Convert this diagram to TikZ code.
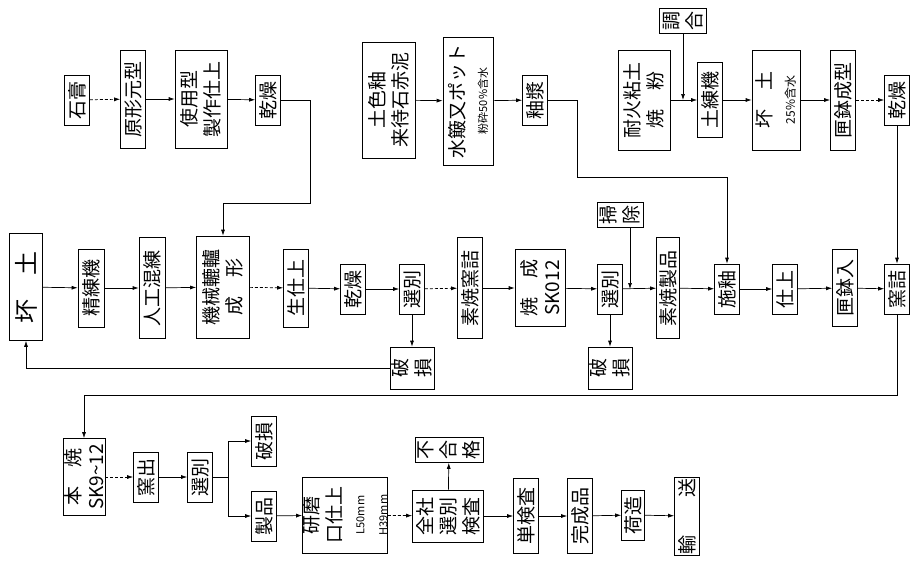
\documentclass[tikz,border=0pt]{standalone}
\usepackage{fontspec}
\newfontfamily\jp{Noto Sans CJK JP}
\usetikzlibrary{arrows.meta}

\begin{document}
\begin{tikzpicture}[x=1pt, y=-1pt,
  blk/.style={draw, line width=0.7pt, rotate=90, inner sep=0pt, align=center,
    font=\jp\fontsize{19}{23}\selectfont},
  wh/.style 2 args={minimum height=#1pt, minimum width=#2pt},
  sbox/.style={blk, wh={25}{50}},
  arr/.style={-{Latex[length=6pt,width=4pt]}, line width=0.7pt}]
  \useasboundingbox (0,0) rectangle (910,560);
  % rotated boxes: north = page left, south = page right, east = page top, west = page bottom
  \node[sbox] (gyp) at (77,100) {石膏};
  \node[blk, wh={25}{98}] (proto) at (133,99) {原形元型};
  \node[blk, wh={52}{98}] (mold) at (201,99) {使用型\\製作仕上};
  \node[sbox] (dryA) at (268,100) {乾燥};
  \node[blk, wh={53}{116}] (glazemat) at (389,100) {土色釉\\来待石赤泥};
  \node[blk, wh={50}{128}] (water) at (468,101) {水簸又ポット\\{\fontsize{11}{13}\selectfont 粉砕50\%含水}};
  \node[sbox] (slip) at (535,100) {釉漿};
  \node[blk, wh={47}{25}] (mix) at (683,21) {調\\合};
  \node[blk, wh={52}{100}] (clay) at (644,100) {耐火粘土\\焼　粉};
  \node[blk, wh={25}{75}] (kneader) at (710,100) {土練機};
  \node[blk, wh={48}{100}] (body) at (776,100) {坏　土\\{\fontsize{12}{14}\selectfont 25\%含水}};
  \node[blk, wh={25}{100}] (sagmold) at (843,100) {匣鉢成型};
  \node[sbox] (dryB) at (897,100) {乾燥};
  % second row
  \node[blk, wh={33}{107}, font=\jp\fontsize{24}{28}\selectfont] (body0) at (26,287) {坏　土};
  \node[blk, wh={26}{78}] (refine) at (91,288) {精練機};
  \node[blk, wh={26}{101}] (handmix) at (152,288) {人工混練};
  \node[blk, wh={53}{102}] (form) at (223,287) {機械轆轤\\成　形};
  \node[blk, wh={25}{78}] (trim) at (296,288) {生仕上};
  \node[sbox] (dryC) at (353,289) {乾燥};
  \node[sbox] (sortA) at (412,289) {選別};
  \node[blk, wh={44}{42}] (brokenA) at (412,368) {破\\損};
  \node[blk, wh={25}{101}] (kilnfill) at (470,288) {素焼窯詰};
  \node[blk, wh={50}{77}] (bisque) at (540,288) {焼　成\\SK012};
  \node[sbox] (sortB) at (610,289) {選別};
  \node[blk, wh={44}{42}] (brokenB) at (610,368) {破\\損};
  \node[blk, wh={46}{25}] (clean) at (620,215) {掃\\除};
  \node[blk, wh={23}{101}] (bisqware) at (668,288) {素焼製品};
  \node[sbox] (apply) at (727,289) {施釉};
  \node[sbox] (finish) at (785,289) {仕上};
  \node[blk, wh={25}{77}] (saggar) at (845,288) {匣鉢入};
  \node[sbox] (fill) at (897,289) {窯詰};
  % third row
  \node[blk, wh={42}{77}] (fire) at (84,477) {本　焼\\SK9\textasciitilde12};
  \node[sbox] (unload) at (146,477) {窯出};
  \node[sbox] (sortC) at (200,477) {選別};
  \node[sbox] (brokenC) at (264,441) {破損};
  \node[sbox] (ware) at (264,516) {製品};
  \node[blk, wh={80}{76}] (grind) at (345,515) {研磨\\口仕上\\{\fontsize{11}{12}\selectfont L50mm}\\{\fontsize{11}{12}\selectfont H39mm}};
  \node[blk, wh={68}{25}] (reject) at (449,450) {不\\合\\格};
  \node[blk, wh={71}{52}] (inspect) at (448,516) {全社\\選別\\検査};
  \node[blk, wh={25}{75}] (single) at (526,516) {単検査};
  \node[blk, wh={25}{75}] (done) at (580,516) {完成品};
  \node[blk, wh={23}{50}] (pack) at (633,515) {荷造};
  \node[blk, wh={25}{78}] (ship) at (687,516) {輸　　送};

  \coordinate (turnA) at (310,203);
  \coordinate (turnB) at (577,177);
  \coordinate (turnC) at (897,395);
  \coordinate (cleanin) at (630,289);
  \coordinate (split) at (228,477);

  \draw[arr, densely dashed] (gyp) -- (proto);
  \draw[arr] (proto) -- (mold);
  \draw[arr] (mold) -- (dryA);
  \draw[arr] (dryA.south) -| (turnA) -| (form.east);
  \draw[arr] (glazemat) -- (water);
  \draw[arr] (water) -- (slip);
  \draw[arr] (slip.south) -| (turnB) -| (apply.east);
  \draw[arr] (clay) -- (kneader);
  \draw[arr] (mix) -- (mix |- kneader);
  \draw[arr] (kneader) -- (body);
  \draw[arr] (body) -- (sagmold);
  \draw[arr, densely dashed] (sagmold) -- (dryB);
  \draw[arr] (dryB) -- (fill);

  \draw[arr] (body0) -- (refine);
  \draw[arr] (refine) -- (handmix);
  \draw[arr] (handmix) -- (form);
  \draw[arr, densely dashed] (form) -- (trim);
  \draw[arr] (trim) -- (dryC);
  \draw[arr] (dryC) -- (sortA);
  \draw[arr] (sortA) -- (brokenA);
  \draw[arr] (brokenA.north) -| (body0.west);
  \draw[arr, densely dashed] (sortA) -- (kilnfill);
  \draw[arr] (kilnfill) -- (bisque);
  \draw[arr] (bisque) -- (sortB);
  \draw[arr] (sortB) -- (brokenB);
  \draw[arr] (sortB) -- (bisqware);
  \draw[arr] (cleanin |- clean.west) -- (cleanin);
  \draw[arr] (bisqware) -- (apply);
  \draw[arr] (apply) -- (finish);
  \draw[arr] (finish) -- (saggar);
  \draw[arr] (saggar) -- (fill);
  \draw[arr] (fill.west) -- (turnC) -| (fire.east);

  \draw[arr, densely dashed] (fire) -- (unload);
  \draw[arr] (unload) -- (sortC);
  \draw (sortC) -- (split);
  \draw[arr] (split) |- (brokenC);
  \draw[arr] (split) |- (ware);
  \draw[arr] (ware) -- (grind);
  \draw[arr, densely dashed] (grind) -- (inspect);
  \draw[arr] (inspect) -- (reject);
  \draw[arr] (inspect) -- (single);
  \draw[arr] (single) -- (done);
  \draw[arr] (done) -- (pack);
  \draw[arr] (pack) -- (ship);
\end{tikzpicture}
\end{document}
